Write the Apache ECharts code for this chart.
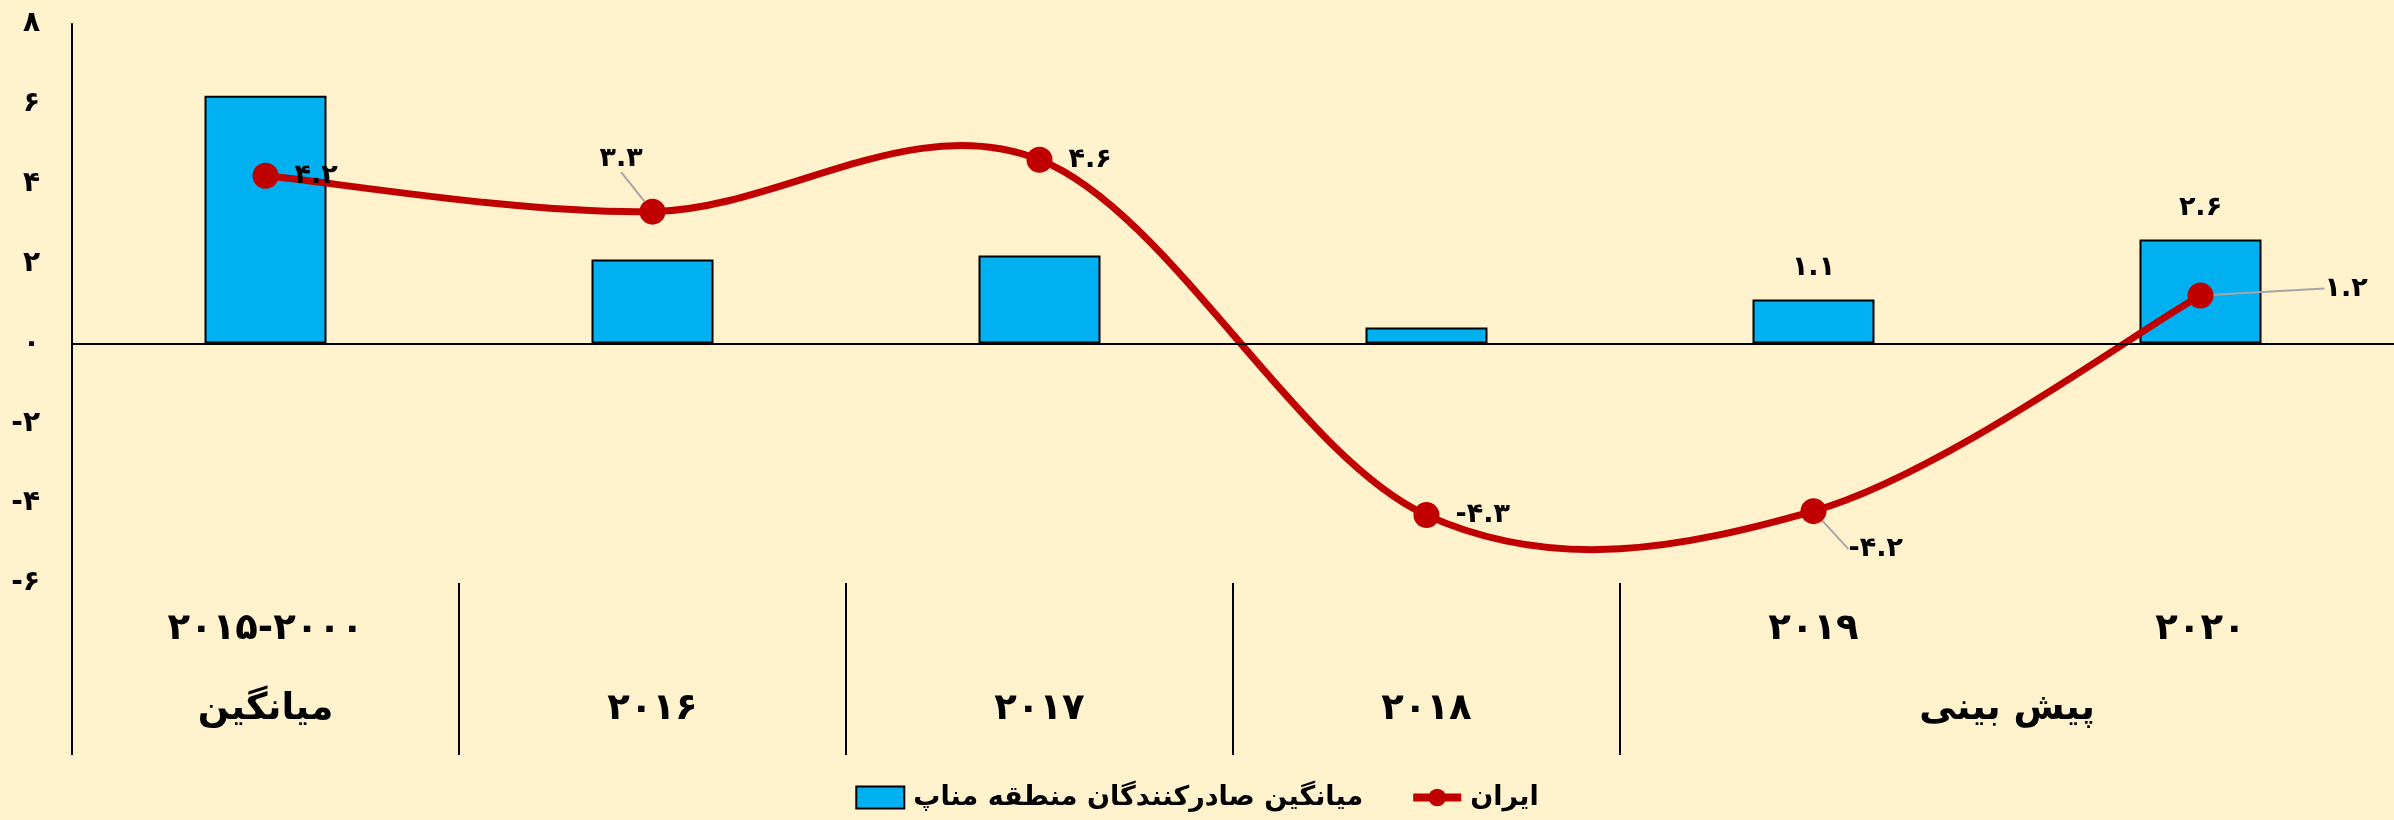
<!DOCTYPE html>
<html>
<head>
<meta charset="utf-8">
<style>
html,body{margin:0;padding:0;background:#FFF2CC;}
#chart{width:2394px;height:820px;}
</style>
<script src="https://cdn.jsdelivr.net/npm/echarts@6/dist/echarts.min.js"></script>
</head>
<body>
<div id="chart"></div>
<script>
// categories: inner row and outer (group) row of the horizontal axis
var innerLabels = ['۲۰۱۵-۲۰۰۰', '', '', '', '۲۰۱۹', '۲۰۲۰'];
var outerLabels = ['میانگین', '۲۰۱۶', '۲۰۱۷', '۲۰۱۸', 'پیش بینی'];
var outerSpan = [1, 1, 1, 1, 2];

// series
var menaName = 'میانگین صادرکنندگان منطقه مناپ';
var menaValues = [6.2, 2.1, 2.2, 0.4, 1.1, 2.6];
var menaLabelShown = [false, false, false, false, true, true];
var iranName = 'ایران';
var iranValues = [4.2, 3.3, 4.6, -4.3, -4.2, 1.2];

// value axis
var yMin = -6, yMax = 8, yStep = 2;

function fa(v) {
    return String(v).replace(/\d/g, function (d) { return '۰۱۲۳۴۵۶۷۸۹'[d]; });
}

// group boundaries and centres on a 0..n scale
var groupStart = [], groupMid = [];
var acc = 0;
for (var k = 0; k < outerSpan.length; k++) {
    groupStart.push(acc);
    groupMid.push(acc + outerSpan[k] / 2);
    acc += outerSpan[k];
}

// labels that were pulled away from their point (with a leader line)
var moved = {1: [-82, -53], 4: [6, 38], 5: [95, -7]};

// excel-like smoothed segment (catmull-rom style bezier) between point i and i+1
function renderCurve(params, api) {
    var i = params.dataIndex;
    var n = iranValues.length;
    if (i >= n - 1) return null;
    var p = function (j) {
        j = Math.max(0, Math.min(n - 1, j));
        return api.coord([j, iranValues[j]]);
    };
    var p0 = p(i - 1), p1 = p(i), p2 = p(i + 1), p3 = p(i + 2);
    return {
        type: 'bezierCurve',
        shape: {
            x1: p1[0], y1: p1[1],
            cpx1: p1[0] + (p2[0] - p0[0]) / 6, cpy1: p1[1] + (p2[1] - p0[1]) / 6,
            cpx2: p2[0] - (p3[0] - p1[0]) / 6, cpy2: p2[1] - (p3[1] - p1[1]) / 6,
            x2: p2[0], y2: p2[1]
        },
        style: {stroke: '#C00000', lineWidth: 7, fill: null, lineCap: 'round'}
    };
}

var font = 'DejaVu Sans';
var myChart = echarts.init(document.getElementById('chart'));
var option = {
    backgroundColor: '#FFF2CC',
    textStyle: {fontFamily: font},
    grid: {left: 72, right: -15, top: 24, bottom: 237},
    legend: {
        bottom: 4,
        left: 'center',
        itemGap: 46,
        itemWidth: 48,
        itemHeight: 22,
        textStyle: {fontFamily: font, fontSize: 27, fontWeight: 'bold', color: '#000', padding: [0, 0, 0, 4]},
        data: [
            {name: menaName, icon: 'rect'},
            {name: iranName, lineStyle: {opacity: 1, width: 8, color: '#C00000'}}
        ]
    },
    xAxis: [{
        type: 'category',
        data: innerLabels,
        position: 'bottom',
        axisLine: {show: false, onZero: false},
        axisTick: {show: false},
        axisLabel: {interval: 0, margin: 28, fontSize: 37, fontWeight: 'bold', color: '#000', fontFamily: font}
    }, {
        type: 'value',
        min: 0,
        max: innerLabels.length,
        position: 'bottom',
        axisLine: {show: false, onZero: false},
        splitLine: {show: false},
        axisTick: {
            show: true,
            customValues: groupStart,
            length: 172,
            lineStyle: {color: '#000', width: 2}
        },
        axisLabel: {
            customValues: groupMid,
            margin: 108,
            fontSize: 37,
            fontWeight: 'bold',
            color: '#000',
            fontFamily: font,
            formatter: function (v) {
                var i = groupMid.indexOf(v);
                return i < 0 ? '' : outerLabels[i];
            }
        }
    }],
    yAxis: {
        type: 'value',
        min: yMin,
        max: yMax,
        interval: yStep,
        axisLine: {show: true, lineStyle: {color: '#000', width: 2}},
        axisTick: {show: false},
        splitLine: {show: false},
        axisLabel: {
            margin: 32,
            fontSize: 28,
            fontWeight: 'bold',
            color: '#000',
            fontFamily: font,
            formatter: function (v) { return fa(v); }
        }
    },
    series: [{
        name: menaName,
        type: 'bar',
        xAxisIndex: 0,
        data: menaValues,
        barWidth: 122,
        itemStyle: {color: '#00B0F0', borderColor: '#000', borderWidth: 2},
        label: {
            show: true,
            position: 'top',
            distance: 18,
            fontSize: 27,
            fontWeight: 'bold',
            color: '#000',
            fontFamily: font,
            formatter: function (p) {
                return menaLabelShown[p.dataIndex] ? fa(p.value) : '';
            }
        },
        markLine: {
            silent: true,
            symbol: 'none',
            label: {show: false},
            lineStyle: {color: '#000', width: 2, type: 'solid'},
            data: [{yAxis: 0}]
        }
    }, {
        name: iranName,
        type: 'line',
        xAxisIndex: 0,
        z: 5,
        symbol: 'circle',
        symbolSize: 26,
        itemStyle: {color: '#C00000'},
        lineStyle: {color: '#C00000', width: 8, opacity: 0},
        data: iranValues.map(function (v, i) {
            return {value: v, labelLine: {show: !!moved[i]}};
        }),
        label: {
            show: true,
            position: 'right',
            distance: 16,
            fontSize: 27,
            fontWeight: 'bold',
            color: '#000',
            fontFamily: font,
            formatter: function (p) { return fa(p.value); }
        },
        labelLine: {show: false, lineStyle: {color: '#A6A6A6', width: 2}},
        labelLayout: function (p) {
            var m = moved[p.dataIndex];
            return m ? {dx: m[0], dy: m[1]} : {};
        }
    }, {
        name: iranName,
        type: 'custom',
        xAxisIndex: 0,
        z: 4,
        silent: true,
        renderItem: renderCurve,
        data: iranValues.map(function (v, i) { return [i, v]; }),
        encode: {x: 0, y: 1}
    }]
};
myChart.setOption(option);
</script>
</body>
</html>
